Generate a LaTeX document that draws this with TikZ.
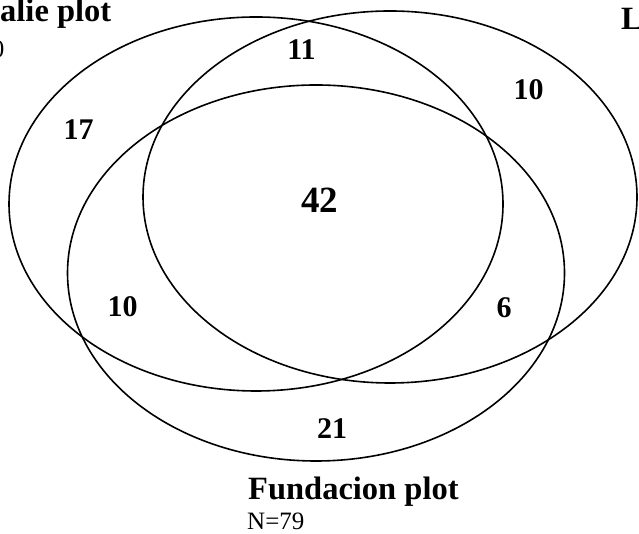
\documentclass[tikz,border=0pt]{standalone}
\usepackage{fontspec}
\setmainfont{Liberation Serif}
\usetikzlibrary{shapes.geometric}

\begin{document}
\begin{tikzpicture}[
        x=1pt, y=1pt,
        plotset/.style={draw, ellipse, line width=1.6pt, minimum width=494pt, minimum height=374pt, inner sep=0pt},
        count/.style={font=\fontsize{30}{30}\selectfont\bfseries, inner sep=0pt, anchor=base},
        plotname/.style={font=\fontsize{32.5}{32.5}\selectfont\bfseries, inner sep=0pt, anchor=base west},
        plotsize/.style={font=\fontsize{25}{25}\selectfont, inner sep=0pt, anchor=base west}
    ]
        \path[use as bounding box, clip] (0,0) rectangle (639,534);

        \node[plotset] (leftplot) at (256,330) {};
        \node[plotset, minimum height=372pt] (rightplot) at (390,337) {};
        \node[plotset, minimum width=497pt, minimum height=376pt] (fundplot) at (316,261) {};

        \node[count] (c11) at (301.5,474) {11};
        \node[count] (c10r) at (528.5,434) {10};
        \node[count] (c17) at (78.5,394) {17};
        \node[count, font=\fontsize{37}{37}\selectfont\bfseries] (c42) at (319.5,321) {42};
        \node[count] (c10l) at (122.5,217) {10};
        \node[count] (c6) at (504,216) {6};
        \node[count] (c21) at (332,95) {21};

        \node[plotname] (fundname) at (248,34) {Fundacion plot};
        \node[plotsize] (fundn) at (247,4.5) {N=79};
        \node[plotname] (leftname) at (0,512) {alie plot};
        \node[plotsize, anchor=base] (leftn) at (-2,476) {0};
        \node[plotname] (rightname) at (621,504) {L};
\end{tikzpicture}
\end{document}
